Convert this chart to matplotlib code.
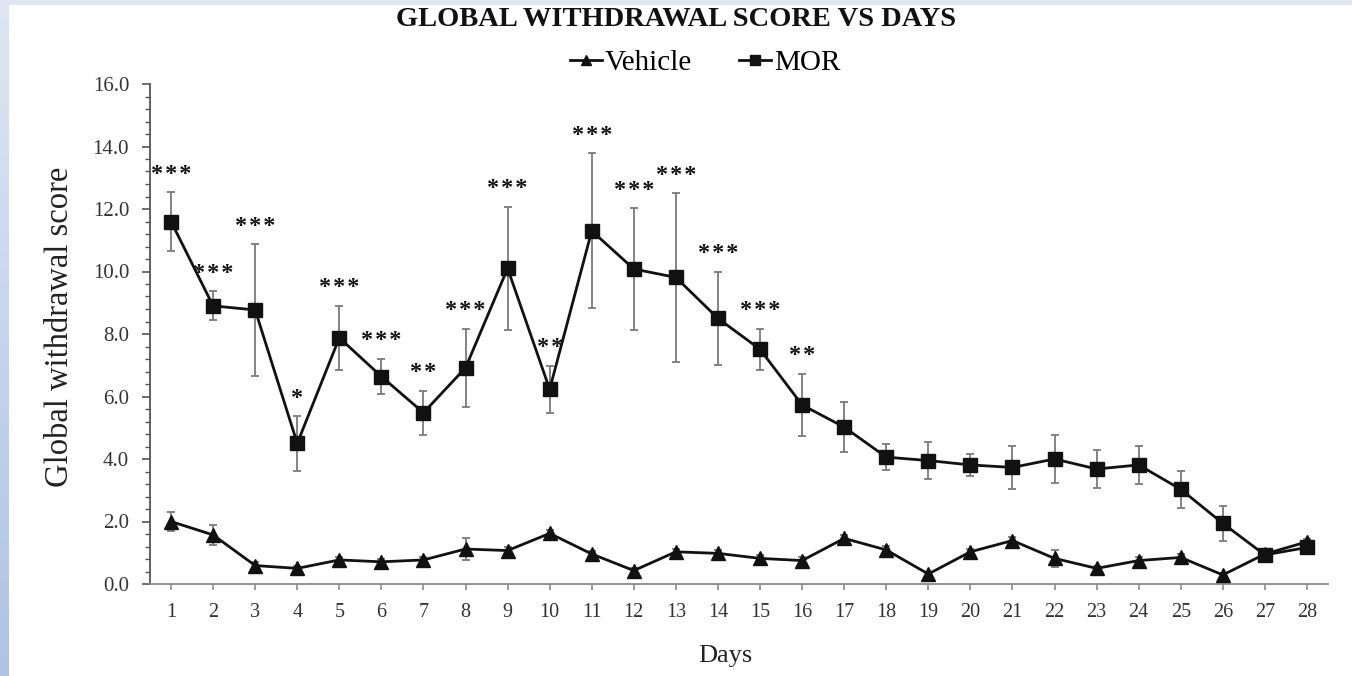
import numpy as np
import matplotlib
matplotlib.use("Agg")
import matplotlib.pyplot as plt
from matplotlib.ticker import MultipleLocator, FormatStrFormatter
from matplotlib.colors import LinearSegmentedColormap

# Daily global withdrawal scores (mean ± SEM)
days = list(range(1, 29))
mor_mean = [11.6, 8.9, 8.77, 4.5, 7.88, 6.64, 5.48, 6.92, 10.1, 6.23,
            11.3, 10.08, 9.81, 8.5, 7.51, 5.73, 5.02, 4.06, 3.95, 3.81,
            3.73, 4.0, 3.68, 3.81, 3.03, 1.94, 0.93, 1.17]
mor_sem = [0.93, 0.46, 2.1, 0.87, 1.02, 0.56, 0.7, 1.25, 1.97, 0.75,
           2.48, 1.95, 2.7, 1.5, 0.66, 1.0, 0.8, 0.42, 0.6, 0.35,
           0.68, 0.78, 0.61, 0.6, 0.6, 0.55, 0.12, 0.1]
veh_mean = [2.0, 1.57, 0.59, 0.5, 0.77, 0.71, 0.77, 1.12, 1.07, 1.62,
            0.96, 0.43, 1.03, 0.98, 0.82, 0.75, 1.46, 1.09, 0.32, 1.03,
            1.39, 0.82, 0.5, 0.75, 0.85, 0.29, 0.96, 1.35]
veh_sem = [0.3, 0.33, 0.1, 0.08, 0.1, 0.1, 0.1, 0.36, 0.12, 0.12,
           0.1, 0.08, 0.1, 0.12, 0.1, 0.1, 0.12, 0.12, 0.06, 0.1,
           0.12, 0.27, 0.08, 0.1, 0.1, 0.06, 0.12, 0.1]
# Significance of MOR vs Vehicle per day
significance = ["***", "***", "***", "*", "***", "***", "**", "***", "***", "**",
                "***", "***", "***", "***", "***", "**", "", "", "", "",
                "", "", "", "", "", "", "", ""]

plt.rcParams["font.family"] = ["Liberation Serif", "DejaVu Serif"]

W, H = 1352, 676
fig = plt.figure(figsize=(W / 100, H / 100), dpi=100)
fig.patch.set_facecolor("white")

# Slide-style blue frame along the top and left edges
top_ax = fig.add_axes([0, 1 - 5 / H, 1, 5 / H])
top_ax.set_axis_off()
top_ax.add_patch(plt.Rectangle((0, 0), 1, 1, color="#dfe6f3", transform=top_ax.transAxes))
left_ax = fig.add_axes([0, 0, 9 / W, 1])
grad = np.linspace(0, 1, 256).reshape(-1, 1)
cmap = LinearSegmentedColormap.from_list("edge", ["#dee6f4", "#aec3e6"])
left_ax.imshow(grad, aspect="auto", cmap=cmap, extent=[0, 1, 0, 1], origin="upper")
left_ax.set_axis_off()

ax = fig.add_axes([150 / W, 1 - 584 / H, (1328 - 150) / W, (584 - 84) / H])

ink = "#111111"
err_col = "#7a7a7a"

ax.errorbar(days, veh_mean, yerr=veh_sem, fmt="none", ecolor=err_col,
            elinewidth=1.3, capsize=3, capthick=1.3, zorder=2)
ax.errorbar(days, mor_mean, yerr=mor_sem, fmt="none", ecolor=err_col,
            elinewidth=1.3, capsize=3, capthick=1.3, zorder=2)
ax.plot(days, veh_mean, color=ink, lw=2, marker="^", markersize=9.5,
        markerfacecolor=ink, markeredgecolor=ink, label="Vehicle", zorder=3)
ax.plot(days, mor_mean, color=ink, lw=2, marker="s", markersize=10,
        markerfacecolor=ink, markeredgecolor=ink, label="MOR", zorder=3)

# Significance stars above the upper error bar, slightly spaced apart
for d, m, s, lab in zip(days, mor_mean, mor_sem, significance):
    if lab:
        ax.text(d, m + s + 0.4, "\u200a".join(lab), ha="center", va="baseline",
                fontsize=17.5, fontweight="bold", color=ink, zorder=4)

ax.set_xlim(0.5, 28.5)
ax.set_ylim(0, 16)
ax.set_xticks(days)
ax.yaxis.set_major_locator(MultipleLocator(2))
ax.yaxis.set_minor_locator(MultipleLocator(0.4))
ax.yaxis.set_major_formatter(FormatStrFormatter("%.1f"))

for side in ("top", "right"):
    ax.spines[side].set_visible(False)
ax.spines["left"].set_color("#555555")
ax.spines["bottom"].set_color("#8a8a8a")
ax.spines["left"].set_linewidth(1.3)
ax.spines["bottom"].set_linewidth(1.3)

ax.tick_params(axis="x", length=4, width=1.2, color="#8a8a8a", pad=10,
               labelsize=14.5, labelcolor="#333333")
ax.tick_params(axis="y", which="major", length=6, width=1.2, color="#555555",
               pad=9, labelsize=15, labelcolor="#333333")
ax.tick_params(axis="y", which="minor", length=3.5, width=1.0, color="#555555")

ax.set_xlabel("Days", fontsize=19, color="#222222")
ax.xaxis.set_label_coords((725 - 150) / 1178, -(645 - 584) / 500)
ax.set_ylabel("Global withdrawal score", fontsize=23.5, color="#222222")
ax.yaxis.set_label_coords(-(150 - 75) / 1178, (584 - 327) / 500)

fig.text(676 / W, 1 - 20 / H, "GLOBAL WITHDRAWAL SCORE VS DAYS", ha="center",
         va="center", fontsize=20.5, fontweight="bold", color="#111111")

leg = fig.legend(loc="center", bbox_to_anchor=(705 / W, 1 - 63 / H), ncol=2,
                 frameon=False, fontsize=21, handlelength=1.1,
                 handletextpad=0.1, columnspacing=1.6, markerscale=0.75)

fig.savefig("out.png", dpi=100)
